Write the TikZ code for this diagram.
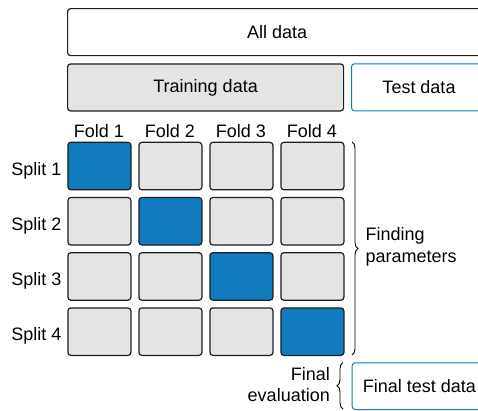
\documentclass[tikz,border=0pt]{standalone}
\usepackage{fontspec}
\setmainfont{Liberation Sans}
\usetikzlibrary{decorations.pathreplacing}
\definecolor{cblue}{RGB}{16,124,189}
\definecolor{cgrey}{RGB}{228,228,228}
\definecolor{cedge}{RGB}{30,30,30}
\begin{document}
\begin{tikzpicture}[x=1pt,y=-1pt,
  lbl/.style={font=\fontsize{18}{21.7}\selectfont, inner sep=0pt},
  box/.style={lbl, draw=cedge, line width=1.2pt, rounded corners=3pt, anchor=north west},
  tbox/.style={lbl, draw=cblue, line width=1pt, rounded corners=3pt, anchor=north west, fill=white},
  cell/.style={draw=cedge, line width=1.2pt, rounded corners=3pt, anchor=north west, inner sep=0pt,
    minimum width=63pt, minimum height=47.5pt},
  bracestyle/.style={draw=black, line width=0.9pt, decorate, decoration={brace, amplitude=6pt}}
]
\useasboundingbox (0,0) rectangle (478,410);

\node[box, minimum width=419pt, minimum height=47pt] (all) at (67,8) {All data};
\node[box, fill=cgrey, minimum width=276pt, minimum height=47pt] (train) at (67,63.3) {Training data};
\node[tbox, minimum width=135pt, minimum height=47pt] (test) at (351,63.3) {Test data};

\foreach \i in {1,...,4}{
  \foreach \j in {1,...,4}{
    \ifnum\i=\j \def\cf{cblue}\else\def\cf{cgrey}\fi
    \node[cell, fill=\cf] (c\i\j) at ({67.3+71*(\i-1)},{141.7+55.2*(\j-1)}) {};
  }
  \node[lbl] (fold\i) at ({98.8+71*(\i-1)},131.5) {Fold \i};
  \node[lbl, anchor=east] (split\i) at ({61.5},{170.5+55.2*(\i-1)}) {Split \i};
}

\coordinate (bt) at (352,142);
\coordinate (bb) at (352,355);
\draw[bracestyle] (bt) -- (bb);
\node[lbl, anchor=west, align=left] (find) at (365.5,247) {Finding\\parameters};

\node[tbox, minimum width=134.3pt, minimum height=46.7pt] (final) at (351.7,362.3) {Final test data};
\coordinate (et) at (343,362.5);
\coordinate (eb) at (343,409);
\draw[bracestyle] (eb) -- (et);
\node[lbl, anchor=east, align=right] (feval) at (330,384.5) {Final\\evaluation};
\end{tikzpicture}
\end{document}
